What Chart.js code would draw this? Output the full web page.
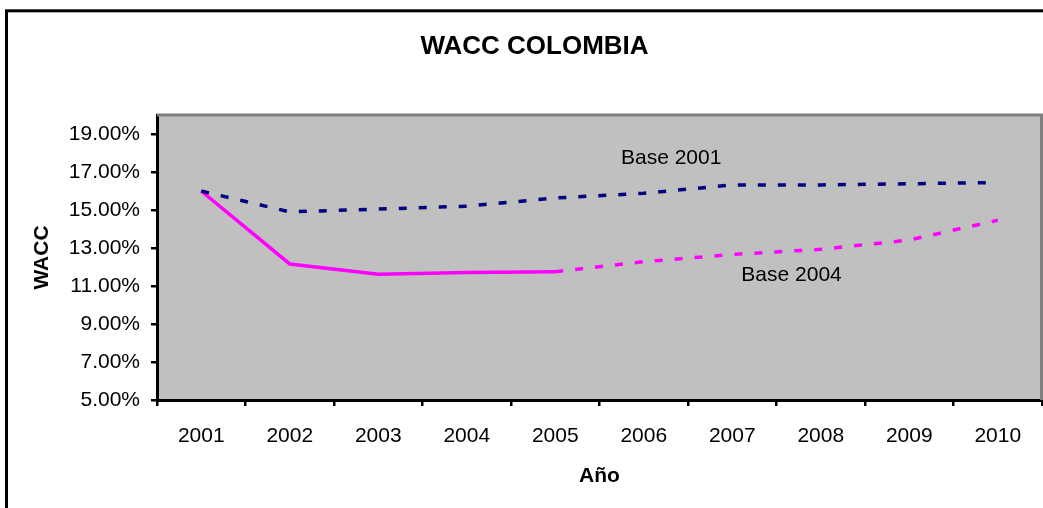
<!DOCTYPE html>
<html>
<head>
<meta charset="utf-8">
<title>WACC COLOMBIA</title>
<script src="https://cdn.jsdelivr.net/npm/chart.js@4/dist/chart.umd.min.js"></script>
<style>
  html, body { margin: 0; padding: 0; background: #fff; overflow: hidden; }
  #wrap { width: 1043px; height: 508px; position: relative; }
</style>
</head>
<body>
<div id="wrap"><canvas id="c" width="1043" height="508"></canvas></div>
<script>
// Years on the horizontal axis
const years = ['2001', '2002', '2003', '2004', '2005', '2006', '2007', '2008', '2009', '2010'];
// WACC (%) estimated with 2001 as base year
const base2001 = [16.0, 14.9, 15.05, 15.2, 15.63, 15.88, 16.32, 16.32, 16.38, 16.45];
// WACC (%) estimated with 2004 as base year (observed through 2005, projected after)
const base2004 = [16.0, 12.16, 11.62, 11.71, 11.75, 12.28, 12.66, 12.93, 13.42, 14.46];
// Labelled ticks on the WACC axis
const yTicks = [5, 7, 9, 11, 13, 15, 17, 19];
// Series captions placed in data coordinates (category index, WACC %)
const seriesNotes = [
  { text: 'Base 2001', x: 5.31, y: 17.72 },
  { text: 'Base 2004', x: 6.67, y: 11.55 }
];
const lastObservedIndex = 4; // 2005

const FONT = '"Liberation Sans", Arial, Helvetica, sans-serif';

const chartDecor = {
  id: 'chartDecor',
  beforeDraw(chart) {
    const { ctx, chartArea: a } = chart;
    ctx.save();
    ctx.fillStyle = '#ffffff';
    ctx.fillRect(0, 0, chart.width, chart.height);
    // outer chart frame
    ctx.strokeStyle = '#000000';
    ctx.lineWidth = 3;
    ctx.strokeRect(6.5, 10.8, 2000, 2000);
    // plot area fill
    ctx.fillStyle = '#C0C0C0';
    ctx.fillRect(a.left, a.top, a.right - a.left, a.bottom - a.top);
    // title
    ctx.fillStyle = '#000000';
    ctx.font = 'bold 26px ' + FONT;
    ctx.textAlign = 'center';
    ctx.textBaseline = 'middle';
    ctx.fillText('WACC COLOMBIA', 534.5, 47);
    ctx.restore();
  },
  beforeDatasetsDraw(chart) {
    const { ctx, chartArea: a } = chart;
    ctx.save();
    ctx.strokeStyle = '#808080';
    ctx.lineWidth = 3;
    ctx.beginPath();
    ctx.moveTo(a.left, a.top);
    ctx.lineTo(a.right - 0.5, a.top);
    ctx.lineTo(a.right - 0.5, a.bottom);
    ctx.stroke();
    ctx.restore();
  },
  afterDatasetsDraw(chart) {
    const { ctx, scales } = chart;
    ctx.save();
    ctx.fillStyle = '#000000';
    ctx.font = '21px ' + FONT;
    ctx.textAlign = 'center';
    ctx.textBaseline = 'middle';
    seriesNotes.forEach(n => {
      ctx.fillText(n.text, scales.x.getPixelForValue(n.x), scales.y.getPixelForValue(n.y));
    });
    ctx.restore();
  }
};

new Chart(document.getElementById('c'), {
  type: 'line',
  data: {
    labels: years,
    datasets: [
      {
        label: 'Base 2001',
        data: base2001,
        borderColor: '#000080',
        borderWidth: 3.5,
        borderDash: [8, 12],
        borderCapStyle: 'butt',
        pointRadius: 0,
        tension: 0,
        fill: false
      },
      {
        label: 'Base 2004',
        data: base2004,
        borderColor: '#FF00FF',
        borderWidth: 3.5,
        borderCapStyle: 'butt',
        pointRadius: 0,
        tension: 0,
        fill: false,
        segment: {
          borderDash: c => c.p0DataIndex >= lastObservedIndex ? [8, 12] : undefined
        }
      }
    ]
  },
  options: {
    responsive: false,
    animation: false,
    devicePixelRatio: 1,
    layout: { padding: { top: 115, right: 1, left: 0, bottom: 0 } },
    plugins: {
      legend: { display: false },
      title: { display: false },
      tooltip: { enabled: false }
    },
    scales: {
      x: {
        type: 'category',
        offset: true,
        grid: {
          offset: true,
          drawOnChartArea: false,
          drawTicks: true,
          tickLength: 6,
          color: '#000000',
          lineWidth: 2.5
        },
        border: { display: true, color: '#000000', width: 3 },
        ticks: {
          color: '#000000',
          font: { family: FONT, size: 21 },
          padding: 18,
          maxRotation: 0,
          autoSkip: false
        },
        title: {
          display: true,
          text: 'Año',
          color: '#000000',
          font: { family: FONT, size: 21, weight: 'bold' },
          padding: { top: 19, bottom: 19 }
        },
        afterFit(s) { s.height = 108; }
      },
      y: {
        type: 'linear',
        min: 5,
        max: 20,
        afterBuildTicks(s) { s.ticks = yTicks.map(v => ({ value: v })); },
        grid: {
          drawOnChartArea: false,
          drawTicks: true,
          tickLength: 6,
          color: '#000000',
          lineWidth: 2.5
        },
        border: { display: true, color: '#000000', width: 3 },
        ticks: {
          color: '#000000',
          font: { family: FONT, size: 21 },
          padding: 11,
          callback: v => Number(v).toFixed(2) + '%'
        },
        title: {
          display: true,
          text: 'WACC',
          color: '#000000',
          font: { family: FONT, size: 21, weight: 'bold' },
          padding: { top: 30, bottom: 0 }
        },
        afterFit(s) { s.width = 157; }
      }
    }
  },
  plugins: [chartDecor]
});
</script>
</body>
</html>
